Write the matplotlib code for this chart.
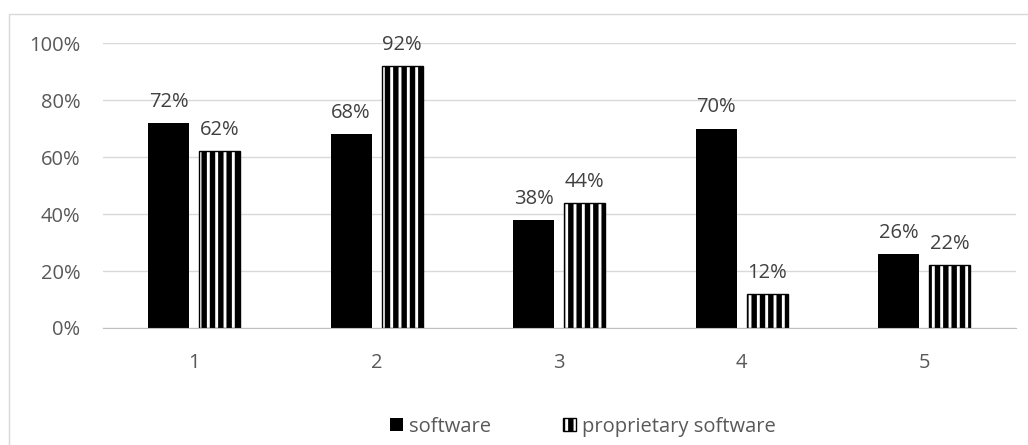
import matplotlib
matplotlib.use("Agg")
import matplotlib.pyplot as plt
import numpy as np
from matplotlib.patches import Rectangle

categories = ["1", "2", "3", "4", "5"]
software = [0.72, 0.68, 0.38, 0.70, 0.26]
proprietary = [0.62, 0.92, 0.44, 0.12, 0.22]
yticks = [0, 0.2, 0.4, 0.6, 0.8, 1.0]
ytick_labels = ["0%", "20%", "40%", "60%", "80%", "100%"]

plt.rcParams['font.family'] = ['Open Sans', 'DejaVu Sans']
plt.rcParams['hatch.linewidth'] = 3.9
plt.rcParams['hatch.color'] = 'black'

FS = 14.5
fig = plt.figure(figsize=(10.28, 4.45), dpi=100)
ax = fig.add_axes([0.100, 0.263, 0.888, 0.640])

x = np.arange(len(categories))
w = 0.224
off = 0.14
b1 = ax.bar(x - off, software, w, color='black', label='software', zorder=3)
b2 = ax.bar(x + off, proprietary, w, facecolor='white', edgecolor='black',
            hatch='||', linewidth=1, label='proprietary software', zorder=3)

for rect, v in list(zip(b1, software)) + list(zip(b2, proprietary)):
    ax.annotate(f"{round(v*100)}%", (rect.get_x() + rect.get_width()/2, v),
                xytext=(0, 8), textcoords='offset points', ha='center', va='bottom',
                fontsize=FS, color='#404040')

ax.set_xlim(-0.5, len(categories) - 0.5)
ax.set_ylim(0, 1.0)
ax.set_yticks(yticks)
ax.set_yticklabels(ytick_labels)
ax.set_xticks(x)
ax.set_xticklabels(categories)
ax.tick_params(axis='both', length=0, labelsize=FS, labelcolor='#595959')
ax.tick_params(axis='y', pad=16)
ax.tick_params(axis='x', pad=18)
ax.grid(axis='y', color='#d9d9d9', linewidth=1, zorder=0)
for s in ['top', 'right', 'left']:
    ax.spines[s].set_visible(False)
ax.spines['bottom'].set_color('#bfbfbf')
ax.spines['bottom'].set_zorder(4)

leg = fig.legend(handles=[b1, b2], loc='center', bbox_to_anchor=(0.567, 0.041),
                 ncol=2, frameon=False, fontsize=FS, handlelength=0.65, handleheight=0.65,
                 handletextpad=0.3, columnspacing=3.6)
for t in leg.get_texts():
    t.set_color('#595959')

fig.patches.append(Rectangle((9/1028, -0.1), 1.2, 1 - 14/445 + 0.1,
                             transform=fig.transFigure, fill=False, edgecolor='#d9d9d9',
                             linewidth=1))

fig.savefig("out.png", dpi=100)
